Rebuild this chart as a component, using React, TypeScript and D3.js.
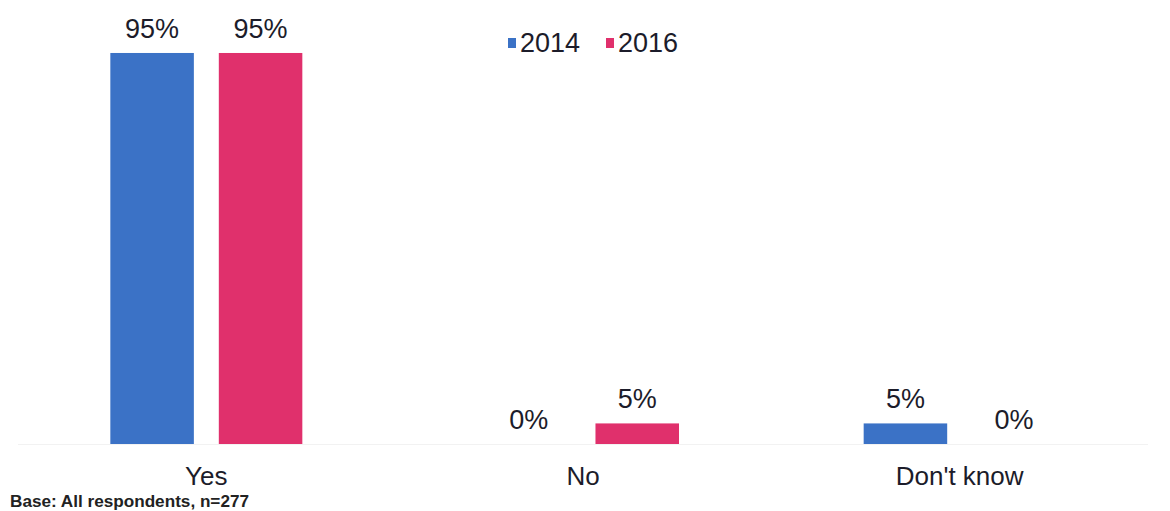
import React from "react";
import * as d3 from "d3";

const categories = ["Yes", "No", "Don't know"];
const seriesNames = ["2014", "2016"];
const values2014 = [95, 0, 5];
const values2016 = [95, 5, 0];
const colors = ["#3b72c6", "#e0306c"];
const footnote = "Base: All respondents, n=277";

const W = 1170;
const H = 511;

export default function App() {
  const x = d3.scaleBand<string>().domain(categories).range([18, 1148]).paddingInner(0).paddingOuter(0);
  const y = d3.scaleLinear().domain([0, 100]).range([444, 32.4]);
  const sub = d3.scaleBand<string>().domain(seriesNames).range([-96, 96]).paddingInner(0.23).paddingOuter(0);
  const series = [values2014, values2016];
  const font = "Arial, 'Liberation Sans', sans-serif";
  const textColor = "#1c1c2a";

  return (
    <svg width={W} height={H} style={{ position: "absolute", left: 0, top: 0, background: "#fff" }}>
      <line x1={18} x2={1148} y1={y(0) + 0.5} y2={y(0) + 0.5} stroke="#f2f2f2" strokeWidth={1} />
      {categories.map((c, i) => {
        const cx = (x(c) as number) + x.bandwidth() / 2;
        return (
          <g key={c}>
            {seriesNames.map((s, j) => {
              const v = series[j][i];
              const bx = cx + (sub(s) as number);
              const bw = sub.bandwidth();
              return (
                <g key={s}>
                  {v > 0 && (
                    <rect x={bx} y={y(v)} width={bw} height={y(0) - y(v)} fill={colors[j]} />
                  )}
                  <text
                    x={bx + bw / 2}
                    y={y(v) - 15}
                    textAnchor="middle"
                    fontFamily={font}
                    fontSize={27}
                    fill={textColor}
                  >
                    {v + "%"}
                  </text>
                </g>
              );
            })}
            <text x={cx} y={485} textAnchor="middle" fontFamily={font} fontSize={26} fill={textColor}>
              {c}
            </text>
          </g>
        );
      })}
      <g>
        {seriesNames.map((s, j) => {
          const lx = 508 + j * 98;
          return (
            <g key={s}>
              <rect x={lx} y={38} width={8} height={10} fill={colors[j]} />
              <text x={lx + 12} y={52} fontFamily={font} fontSize={27} fill={textColor}>
                {s}
              </text>
            </g>
          );
        })}
      </g>
      <text
        x={10}
        y={507}
        fontFamily={"'Liberation Sans Narrow', Arial, sans-serif"}
        fontSize={16}
        fontWeight="bold"
        fill="#222"
        textLength={239}
        lengthAdjust="spacingAndGlyphs"
      >
        {footnote}
      </text>
    </svg>
  );
}
